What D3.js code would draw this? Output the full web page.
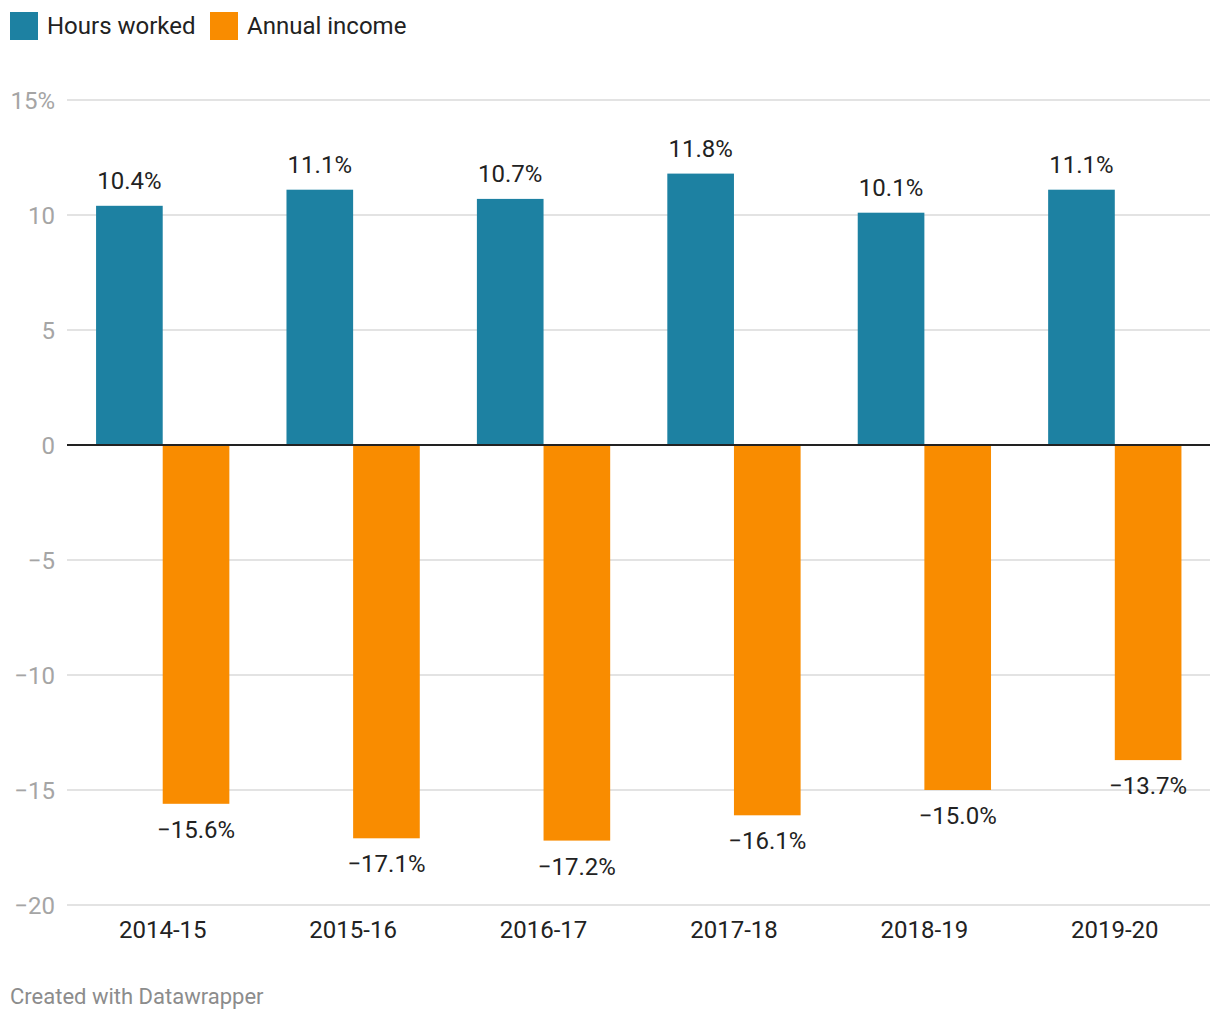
<!DOCTYPE html>
<html><head><meta charset="utf-8">
<script src="https://cdn.jsdelivr.net/npm/d3@7"></script>
<style>
html,body{margin:0;padding:0;background:#fff;}
text{font-family:Roboto,"Noto Sans",sans-serif;}
</style></head>
<body>
<svg id="chart" width="1220" height="1020"></svg>
<script>
const categories = ["2014-15","2015-16","2016-17","2017-18","2018-19","2019-20"];
const seriesNames = ["Hours worked","Annual income"];
const hoursWorked = [10.4, 11.1, 10.7, 11.8, 10.1, 11.1];
const annualIncome = [-15.6, -17.1, -17.2, -16.1, -15.0, -13.7];
const yTicks = [15, 10, 5, 0, -5, -10, -15, -20];
const colors = ["#1d81a2", "#f98c00"];

const svg = d3.select("#chart");
const x0 = d3.scaleBand().domain(categories).range([67.5, 1210]).paddingInner(0.3).paddingOuter(0.15);
const x1 = d3.scaleBand().domain(seriesNames).range([0, x0.bandwidth()]);
const y = d3.scaleLinear().domain([-20, 15]).range([905, 100]);
const color = d3.scaleOrdinal().domain(seriesNames).range(colors);

// gridlines + y labels
const yAxis = d3.axisLeft(y).tickValues(yTicks).tickSize(0)
  .tickFormat(d => (d === 15 ? "15%" : d3.format("d")(d).replace("-", "\u2212")));
const gy = svg.append("g").attr("transform", "translate(55,0)").call(yAxis);
gy.select(".domain").remove();
gy.selectAll("text").attr("x", 0).attr("dy", "0.35em").attr("fill", "#a5a5a5")
  .style("font-size", "24px").style("font-family", "Roboto");
svg.append("g").selectAll("line").data(yTicks.filter(d => d !== 0)).join("line")
  .attr("x1", 67).attr("x2", 1210).attr("y1", d => y(d)).attr("y2", d => y(d))
  .attr("stroke", "#e3e3e3").attr("stroke-width", 2);

// bars
const data = categories.map((c, i) => ({cat: c, vals: [
  {s: seriesNames[0], v: hoursWorked[i]}, {s: seriesNames[1], v: annualIncome[i]}]}));
const groups = svg.append("g").selectAll("g").data(data).join("g")
  .attr("transform", d => `translate(${x0(d.cat)},0)`);
groups.selectAll("rect").data(d => d.vals).join("rect")
  .attr("x", d => x1(d.s)).attr("width", x1.bandwidth())
  .attr("y", d => y(Math.max(0, d.v))).attr("height", d => Math.abs(y(d.v) - y(0)))
  .attr("fill", d => color(d.s));
groups.selectAll("text").data(d => d.vals).join("text")
  .attr("x", d => x1(d.s) + x1.bandwidth() / 2)
  .attr("y", d => d.v >= 0 ? y(d.v) - 17 : y(d.v) + 34)
  .attr("text-anchor", "middle").attr("fill", "#222")
  .style("font-size", "24px")
  .text(d => d3.format(".1f")(d.v).replace("-", "\u2212") + "%");

// zero line
svg.append("line").attr("x1", 67).attr("x2", 1210).attr("y1", y(0)).attr("y2", y(0))
  .attr("stroke", "#222").attr("stroke-width", 2);

// x axis labels
const xAxis = d3.axisBottom(x0).tickSize(0);
const gx = svg.append("g").attr("transform", "translate(0,921)").call(xAxis);
gx.select(".domain").remove();
gx.selectAll("text").attr("y", 0).attr("dy", "0.72em").attr("fill", "#222")
  .style("font-size", "24px").style("font-family", "Roboto");

// legend
const legend = svg.append("g").selectAll("g").data(seriesNames).join("g")
  .attr("transform", (d, i) => `translate(${[10, 210][i]},12)`);
legend.append("rect").attr("width", 28).attr("height", 28).attr("fill", d => color(d));
legend.append("text").attr("x", 37).attr("y", 22).attr("fill", "#222")
  .style("font-size", "24px").text(d => d);

// footer
svg.append("text").attr("x", 10).attr("y", 1004).attr("fill", "#8c8c8c")
  .style("font-size", "22px").text("Created with Datawrapper");
</script>
</body></html>
